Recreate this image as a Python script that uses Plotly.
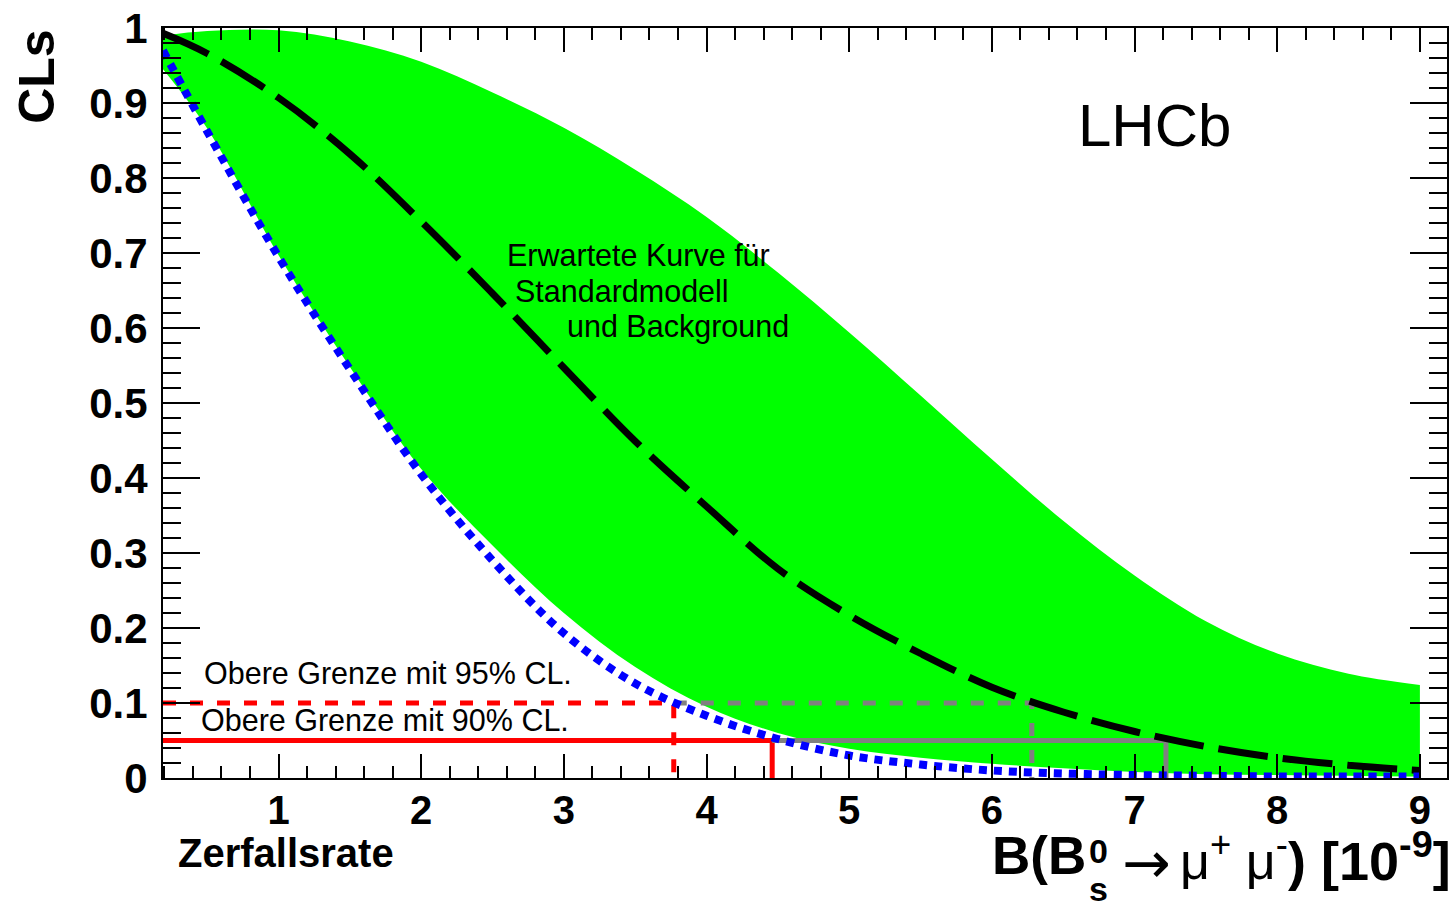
import plotly.graph_objects as go

# ---------------- data ----------------
x_grid = [0.19, 0.5, 1.0, 1.5, 2.0, 2.5, 3.0, 3.5, 4.0, 4.5, 5.0, 5.5, 6.0, 6.5, 7.0, 7.5, 8.0, 8.5, 9.0]

band_upper = [0.990, 0.996, 0.997, 0.982, 0.955, 0.914, 0.867, 0.811, 0.748, 0.674, 0.594, 0.510,
              0.425, 0.343, 0.270, 0.209, 0.166, 0.139, 0.124]
band_lower = [0.945, 0.866, 0.697, 0.548, 0.412, 0.310, 0.220, 0.148, 0.095, 0.060, 0.039, 0.027,
              0.019, 0.013, 0.008, 0.005, 0.004, 0.003, 0.002]
cls_observed = [0.970, 0.862, 0.695, 0.545, 0.405, 0.290, 0.193, 0.126, 0.083, 0.052, 0.030, 0.018,
                0.010, 0.006, 0.004, 0.003, 0.002, 0.002, 0.002]
cls_expected = [0.993, 0.966, 0.907, 0.832, 0.742, 0.646, 0.547, 0.449, 0.362, 0.279, 0.217, 0.166,
                0.121, 0.088, 0.062, 0.042, 0.027, 0.017, 0.010]

cls_90 = 0.10
cls_95 = 0.05
obs_limit_90 = 3.77
obs_limit_95 = 4.46
exp_limit_90 = 6.28
exp_limit_95 = 7.22

x_ticks = [1, 2, 3, 4, 5, 6, 7, 8, 9]
y_ticks = [0, 0.1, 0.2, 0.3, 0.4, 0.5, 0.6, 0.7, 0.8, 0.9, 1]
y_ticklabels = ["0", "0.1", "0.2", "0.3", "0.4", "0.5", "0.6", "0.7", "0.8", "0.9", "1"]

x_min, x_max = 0.19, 9.19

# ---------------- figure ----------------
W, H = 1454, 906
L, R, T, B = 163, 1449, 23, 778
FONT = "Liberation Sans, Arial, Helvetica, sans-serif"


def px(xp, yp):
    return (xp - L) / (R - L), (B - yp) / (B - T)


fig = go.Figure()

# green band (lower edge, then upper edge filled down to it)
fig.add_trace(go.Scatter(x=x_grid, y=band_lower, mode="lines",
                         line=dict(width=0, shape="spline", color="#00ff00"),
                         hoverinfo="skip", showlegend=False))
fig.add_trace(go.Scatter(x=x_grid, y=band_upper, mode="lines", fill="tonexty",
                         fillcolor="#00ff00", line=dict(width=0, shape="spline", color="#00ff00"),
                         hoverinfo="skip", showlegend=False))

# limit lines
fig.add_trace(go.Scatter(x=[x_min, obs_limit_90, obs_limit_90], y=[cls_90, cls_90, 0],
                         mode="lines", line=dict(color="#ff0000", width=5, dash="13px,14px"),
                         showlegend=False))
fig.add_trace(go.Scatter(x=[obs_limit_90, exp_limit_90, exp_limit_90], y=[cls_90, cls_90, 0],
                         mode="lines", line=dict(color="#808080", width=5, dash="13px,14px"),
                         showlegend=False))
fig.add_trace(go.Scatter(x=[x_min, obs_limit_95, obs_limit_95], y=[cls_95, cls_95, 0],
                         mode="lines", line=dict(color="#ff0000", width=5),
                         showlegend=False))
fig.add_trace(go.Scatter(x=[obs_limit_95, exp_limit_95, exp_limit_95], y=[cls_95, cls_95, 0],
                         mode="lines", line=dict(color="#808080", width=5),
                         showlegend=False))

# expected (black dashed)
fig.add_trace(go.Scatter(x=x_grid, y=cls_expected, mode="lines",
                         line=dict(color="black", width=7, dash="50px,15px", shape="spline"),
                         showlegend=False))
# observed (blue dotted)
fig.add_trace(go.Scatter(x=x_grid, y=cls_observed, mode="lines",
                         line=dict(color="#0000ff", width=8, dash="8px,7px", shape="spline"),
                         showlegend=False))

fig.update_xaxes(
    range=[x_min, x_max], tickmode="array", tickvals=x_ticks, ticktext=[str(v) for v in x_ticks],
    ticks="inside", ticklen=24, tickwidth=2, tickcolor="black",
    showline=True, linecolor="black", linewidth=2, mirror="ticks",
    showgrid=False, zeroline=False,
    tickfont=dict(family=FONT, size=40, color="black", weight="bold"),
    ticklabelstandoff=-4, ticklabeloverflow="allow",
    minor=dict(dtick=0.2, tick0=0, ticks="inside", ticklen=12, tickwidth=2, tickcolor="black", showgrid=False),
)
fig.update_yaxes(
    range=[0, 1], tickmode="array", tickvals=y_ticks, ticktext=y_ticklabels,
    ticks="inside", ticklen=37, tickwidth=2, tickcolor="black",
    showline=True, linecolor="black", linewidth=2, mirror="ticks",
    showgrid=False, zeroline=False,
    tickfont=dict(family=FONT, size=42, color="black", weight="bold"),
    ticklabelstandoff=5, ticklabeloverflow="allow",
    minor=dict(dtick=0.02, tick0=0, ticks="inside", ticklen=18, tickwidth=2, tickcolor="black", showgrid=False),
)

ann = []


def add_text(text, xp, yp, size, xanchor="left", yanchor="middle", bold=False, angle=0, family=FONT):
    xx, yy = px(xp, yp)
    ann.append(dict(text=text, x=xx, y=yy, xref="paper", yref="paper", xanchor=xanchor,
                    yanchor=yanchor, showarrow=False, textangle=angle,
                    font=dict(family=family, size=size, color="black",
                              weight="bold" if bold else "normal")))


add_text("LHCb", 1156, 121, 60, xanchor="center")
add_text("Erwartete Kurve für", 506, 252, 30.5)
add_text("Standardmodell", 514, 288, 30.5)
add_text("und Background", 566, 323, 30.5)
add_text("Obere Grenze mit 95% CL.", 202, 672, 30.5)
add_text("Obere Grenze mit 90% CL.", 199, 720, 30.5)
add_text("Zerfallsrate", 176, 853, 40, bold=True)
add_text("CLs", 36, 72, 50, xanchor="center", bold=True, angle=-90)

# x-axis title pieces
add_text("B(B", 1089, 856, 53, xanchor="right", bold=True)
add_text("0", 1100, 851, 34, xanchor="center", bold=True)
add_text("s", 1100, 890, 34, xanchor="center", bold=True)
add_text("→", 1121, 864, 58, family="DejaVu Sans, sans-serif")
add_text("μ<sup>+</sup> μ<sup>-</sup>", 1180, 858, 52)
add_text(") [10<sup>-9</sup>]", 1288, 858, 54, bold=True)

fig.update_layout(
    width=W, height=H,
    margin=dict(l=L, r=W - R, t=T, b=H - B, pad=0),
    plot_bgcolor="white", paper_bgcolor="white",
    annotations=ann, showlegend=False,
)

fig.write_html("out.html", config={"displayModeBar": False},
               post_script="document.body.style.margin='0';")
